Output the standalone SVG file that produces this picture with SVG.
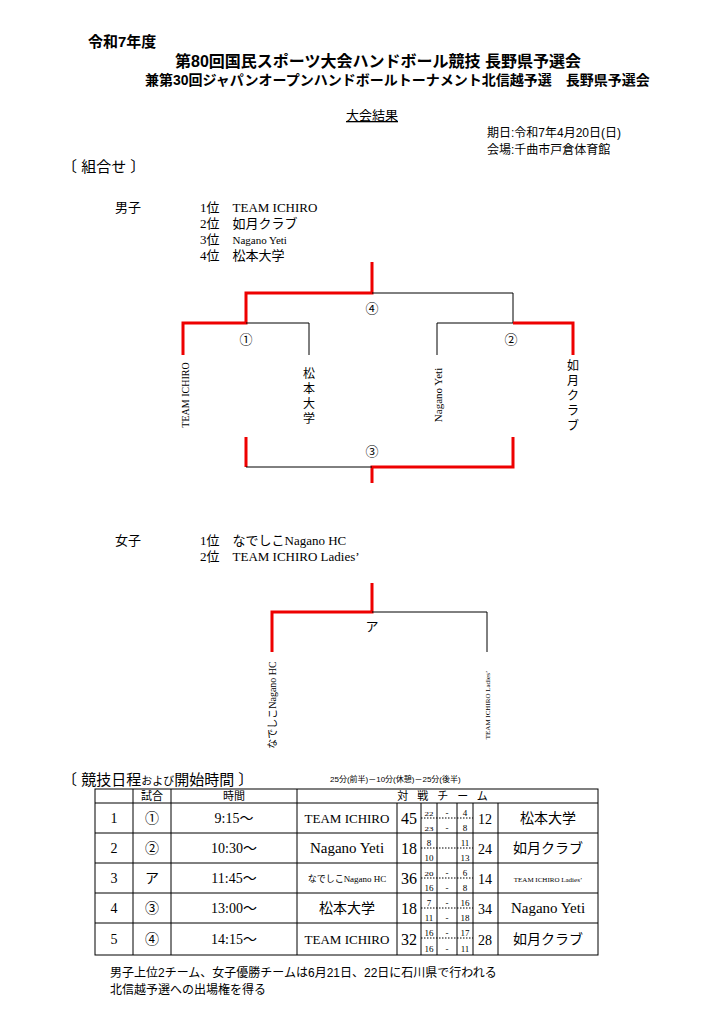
<svg xmlns="http://www.w3.org/2000/svg" width="724" height="1024" viewBox="0 0 724 1024">
<style>
text{font-family:"Liberation Serif","Noto Sans CJK JP",serif;fill:#000}
.g{font-family:"Liberation Sans","Noto Sans CJK JP",sans-serif}
.b{font-weight:bold}
.r{stroke:#e00;stroke-width:3;fill:none}
.k{stroke:#000;stroke-width:1;fill:none}
.t{stroke:#000;stroke-width:1;fill:none}
.d{stroke:#000;stroke-width:1;stroke-dasharray:1.5 1.5}
</style>
<rect width="724" height="1024" fill="#fff"/>
<g id="header">
<text x="88" y="47" class="g b" font-size="15">令和7年度</text>
<text x="175" y="67" class="g b" font-size="16">第80回国民スポーツ大会ハンドボール競技 長野県予選会</text>
<text x="145" y="85" class="g b" font-size="14">兼第30回ジャパンオープンハンドボールトーナメント北信越予選　長野県予選会</text>
<text x="372" y="120" class="g" font-size="13" text-anchor="middle" text-decoration="underline">大会結果</text>
<text x="487" y="137" class="g" font-size="12">期日:令和7年4月20日(日)</text>
<text x="487" y="154" class="g" font-size="12">会場:千曲市戸倉体育館</text>
<text x="62" y="172" class="g" font-size="15">〔 組合せ 〕</text>
</g>
<g id="men-ranking" font-size="13">
<text x="115" y="212" class="g">男子</text>
<text x="200" y="212">1位　TEAM ICHIRO</text>
<text x="200" y="228">2位　如月クラブ</text>
<text x="200" y="244">3位　<tspan font-size="11">Nagano  Yeti</tspan></text>
<text x="200" y="260">4位　松本大学</text>
</g>
<g id="connectors">
<path class="r" d="M372 262V293H246V323H183V355"/>
<path class="k" d="M372 293H513V323H437V355M246 323H309V355"/>
<path class="r" d="M513 323H573V355"/>
<path class="r" d="M246 437V467M513 437V467H372V483"/>
<path class="k" d="M246 467H372"/>
<path class="r" d="M372 583V612H272V652"/>
<path class="k" d="M372 612H487V652"/>
</g>
<g id="labels" font-size="13" text-anchor="middle">
<text x="372" y="313">④</text>
<text x="246" y="344">①</text>
<text x="511" y="344">②</text>
<text x="372" y="456">③</text>
<text x="372" y="631">ア</text>
</g>
<g id="team-men" font-size="12">
<text transform="translate(189,395) rotate(-90)" text-anchor="middle" font-size="10">TEAM ICHIRO</text>
<text x="309" y="378" text-anchor="middle" class="g">松</text>
<text x="309" y="393" text-anchor="middle" class="g">本</text>
<text x="309" y="408" text-anchor="middle" class="g">大</text>
<text x="309" y="423" text-anchor="middle" class="g">学</text>
<text transform="translate(442,395) rotate(-90)" text-anchor="middle" font-size="11">Nagano  Yeti</text>
<text x="573" y="370" text-anchor="middle" class="g">如</text>
<text x="573" y="385" text-anchor="middle" class="g">月</text>
<text x="573" y="400" text-anchor="middle" class="g">ク</text>
<text x="573" y="415" text-anchor="middle" class="g">ラ</text>
<text x="573" y="430" text-anchor="middle" class="g">ブ</text>
</g>
<g id="women-ranking" font-size="13">
<text x="115" y="545" class="g">女子</text>
<text x="200" y="545">1位　なでしこNagano  HC</text>
<text x="200" y="561">2位　TEAM ICHIRO  Ladies’</text>
</g>
<g id="team-women">
<text transform="translate(276,705) rotate(-90)" text-anchor="middle" font-size="10">なでしこNagano  HC</text>
<text transform="translate(490,705) rotate(-90)" text-anchor="middle" font-size="7">TEAM ICHIRO  Ladies’</text>
</g>
<g id="schedule">
<text x="62" y="785" class="g" font-size="15">〔 競技日程<tspan font-size="11">および</tspan>開始時間 〕</text>
<text x="330" y="782" class="g" font-size="8">25分(前半)－10分(休憩)－25分(後半)</text>
<rect class="t" x="95" y="789" width="503" height="166" stroke-width="1.5"/>
<path class="t" d="M95 803H598M95 833H598M95 863H598M95 893H598M95 923H598"/>
<path class="t" d="M133 789V955M171 789V955M297 789V955M421 803V955M437 803V955M457 803V955M473 803V955M498 803V955M397 803V955"/>
<path class="d" d="M421 818H473M421 848H473M421 878H473M421 908H473M421 938H473"/>
<g font-size="11" class="g" text-anchor="middle">
<text x="152" y="800">試合</text><text x="234" y="800">時間</text><text x="447" y="800" letter-spacing="9">対戦チーム</text>
</g>
<g font-size="14" text-anchor="middle">
<text x="114" y="823">1</text><text x="152" y="823">①</text><text x="234" y="823">9:15～</text><text x="347" y="823" font-size="13">TEAM ICHIRO</text><text x="409" y="824" font-size="16">45</text><text x="485" y="824">12</text><text x="548" y="823" class="g">松本大学</text>
<text x="114" y="853">2</text><text x="152" y="853">②</text><text x="234" y="853">10:30～</text><text x="347" y="853" font-size="15">Nagano  Yeti</text><text x="409" y="854" font-size="16">18</text><text x="485" y="854">24</text><text x="548" y="853" class="g">如月クラブ</text>
<text x="114" y="883">3</text><text x="152" y="883">ア</text><text x="234" y="883">11:45～</text><text x="347" y="882" font-size="9">なでしこNagano  HC</text><text x="409" y="884" font-size="16">36</text><text x="485" y="884">14</text><text x="548" y="882" font-size="7">TEAM ICHIRO  Ladies’</text>
<text x="114" y="913">4</text><text x="152" y="913">③</text><text x="234" y="913">13:00～</text><text x="347" y="913" class="g">松本大学</text><text x="409" y="914" font-size="16">18</text><text x="485" y="914">34</text><text x="548" y="913" font-size="15">Nagano  Yeti</text>
<text x="114" y="944">5</text><text x="152" y="944">④</text><text x="234" y="944">14:15～</text><text x="347" y="944" font-size="13">TEAM ICHIRO</text><text x="409" y="945" font-size="16">32</text><text x="485" y="945">28</text><text x="548" y="944" class="g">如月クラブ</text>
</g>
<g font-size="9" text-anchor="middle">
<text x="429" y="816" transform="translate(429,816) scale(1,0.6) translate(-429,-816)">22</text><text x="447" y="816">-</text><text x="465" y="816">4</text>
<text x="429" y="831" transform="translate(429,831) scale(1,0.6) translate(-429,-831)">23</text><text x="447" y="831">-</text><text x="465" y="831">8</text>
<text x="429" y="846">8</text><text x="465" y="846">11</text>
<text x="429" y="861">10</text><text x="465" y="861">13</text>
<text x="429" y="876" transform="translate(429,876) scale(1,0.6) translate(-429,-876)">20</text><text x="447" y="876">-</text><text x="465" y="876">6</text>
<text x="429" y="891">16</text><text x="447" y="891">-</text><text x="465" y="891">8</text>
<text x="429" y="906">7</text><text x="447" y="906">-</text><text x="465" y="906">16</text>
<text x="429" y="921">11</text><text x="447" y="921">-</text><text x="465" y="921">18</text>
<text x="429" y="936">16</text><text x="447" y="936">-</text><text x="465" y="936">17</text>
<text x="429" y="952">16</text><text x="447" y="952">-</text><text x="465" y="952">11</text>
</g>
<text x="110" y="977" class="g" font-size="12">男子上位2チーム、女子優勝チームは6月21日、22日に石川県で行われる</text>
<text x="110" y="994" class="g" font-size="12">北信越予選への出場権を得る</text>
</g>
</svg>
